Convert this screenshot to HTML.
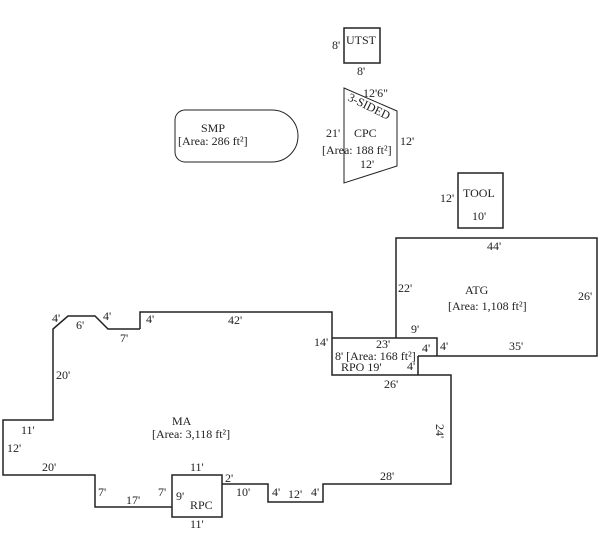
<!DOCTYPE html>
<html><head><style>body{margin:0;background:#fff}svg{display:block}text{font-family:"Liberation Serif",serif;font-size:12px;fill:#222}</style></head><body>
<svg width="600" height="558" viewBox="0 0 600 558" xmlns="http://www.w3.org/2000/svg">
<g fill="none" stroke="#222" stroke-width="1.5">
<rect x="344" y="28" width="36" height="35"/>
<polygon points="344,88 397,111 397,166 344,183" stroke-width="1"/>
<path d="M185,110 H272 A26,26 0 0 1 272,162 H185 A10,10 0 0 1 175,152 V120 A10,10 0 0 1 185,110 Z" stroke-width="1"/>
<rect x="458" y="173" width="45" height="55"/>
<path d="M396,338 V238 H597 V356 H418"/>
<path d="M332,338 H437 V356"/>
<path d="M140,329 V312 H332 V375 H451 V484 H323 V502 H268 V484 H222"/>
<path d="M418,356 V375"/>
<rect x="172" y="475" width="50" height="42"/>
<path d="M172,507 H95 V475 H3 V420 H53 V329 L68,316 H95 L108,329 H140"/>
</g>
<text x="346" y="44">UTST</text><text x="332" y="49">8'</text><text x="357" y="75">8'</text>
<text x="363" y="97">12'6"</text>
<text x="347" y="100" transform="rotate(26 347 100)">3-SIDED</text>
<text x="326" y="137">21'</text><text x="354" y="137">CPC</text><text x="400" y="145">12'</text>
<text x="322" y="154">[Area: 188 ft²]</text><text x="360" y="168">12'</text>
<text x="201" y="132">SMP</text><text x="178" y="145">[Area: 286 ft²]</text>
<text x="463" y="197">TOOL</text><text x="440" y="202">12'</text><text x="472" y="220">10'</text>
<text x="487" y="250">44'</text><text x="398" y="292">22'</text><text x="465" y="294">ATG</text>
<text x="448" y="310">[Area: 1,108 ft²]</text><text x="578" y="300">26'</text>
<text x="411" y="333">9'</text><text x="422" y="352">4'</text><text x="440" y="350">4'</text><text x="509" y="350">35'</text>
<text x="314" y="346">14'</text><text x="376" y="348">23'</text><text x="335" y="360">8' [Area: 168 ft²]</text>
<text x="341" y="371">RPO 19'</text><text x="407" y="370">4'</text><text x="384" y="388">26'</text>
<text x="436" y="424" transform="rotate(90 436 424)">24'</text>
<text x="52" y="322">4'</text><text x="76" y="329">6'</text><text x="103" y="320">4'</text><text x="146" y="323">4'</text>
<text x="120" y="342">7'</text><text x="228" y="324">42'</text><text x="56" y="379">20'</text>
<text x="172" y="425">MA</text><text x="152" y="438">[Area: 3,118 ft²]</text>
<text x="21" y="434">11'</text><text x="7" y="452">12'</text><text x="42" y="471">20'</text>
<text x="98" y="496">7'</text><text x="126" y="504">17'</text><text x="158" y="496">7'</text>
<text x="190" y="471">11'</text><text x="176" y="500">9'</text><text x="190" y="509">RPC</text><text x="190" y="528">11'</text>
<text x="225" y="482">2'</text><text x="236" y="496">10'</text><text x="272" y="496">4'</text><text x="288" y="498">12'</text><text x="311" y="496">4'</text>
<text x="380" y="480">28'</text>
</svg>
</body></html>
